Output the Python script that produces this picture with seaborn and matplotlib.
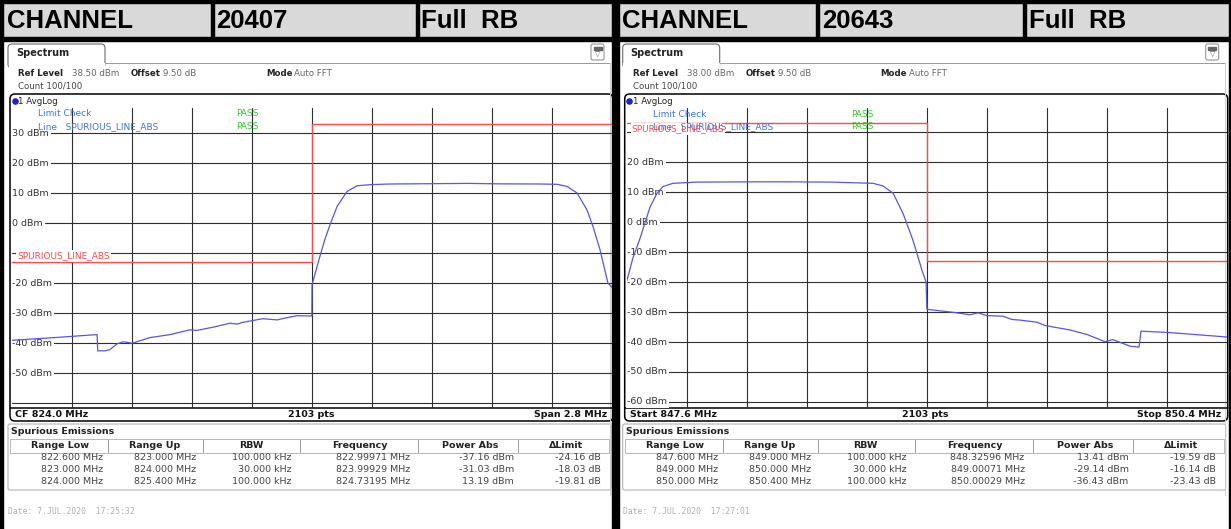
import numpy as np
import pandas as pd
import matplotlib
matplotlib.use("Agg")
import matplotlib.pyplot as plt
import matplotlib.transforms as mtrans
from matplotlib.patches import Rectangle, FancyBboxPatch
import seaborn as sns

# ---- header / settings ----
channels = ["20407", "20643"]
rb_label = "Full  RB"
ref_level = [38.5, 38.0]
offset_db = [9.5, 9.5]
freq_start = [822.6, 847.6]
freq_stop = [825.4, 850.4]
footer_left = ["CF 824.0 MHz", "Start 847.6 MHz"]
footer_right = ["Span 2.8 MHz", "Stop 850.4 MHz"]
sweep_points = 2103
dates = ["Date: 7.JUL.2020  17:25:32", "Date: 7.JUL.2020  17:27:01"]
ylabels_shown = [[30, 20, 10, 0, -20, -30, -40, -50],
                 [20, 10, 0, -10, -20, -30, -40, -50, -60]]

# ---- traces (MHz, dBm) ----
left_freq = [822.600, 822.777, 822.997, 823.000, 823.034, 823.057, 823.090, 823.118,
             823.141, 823.160, 823.244, 823.337, 823.431, 823.463, 823.547, 823.617,
             823.650, 823.678, 823.771, 823.837, 823.874, 823.930, 823.999, 824.000,
             824.037, 824.060, 824.084, 824.117, 824.163, 824.210, 824.275, 824.364,
             824.551, 824.728, 824.877, 825.064, 825.143, 825.190, 825.237, 825.283,
             825.311, 825.344, 825.381, 825.400]
left_level = [-39.1, -38.3, -37.2, -42.6, -42.6, -42.2, -40.3, -39.6,
              -39.8, -40.1, -38.2, -37.2, -35.6, -35.8, -34.6, -33.4,
              -33.7, -33.1, -31.9, -32.3, -31.7, -30.9, -31.0, -20.6,
              -11.1, -5.5, -0.6, 5.5, 10.5, 12.4, 12.8, 13.0,
              13.1, 13.2, 13.05, 13.0, 12.9, 12.2, 10.0, 4.4,
              -1.1, -8.9, -20.0, -21.5]

right_freq = [847.601, 847.629, 847.662, 847.709, 847.741, 847.769, 847.816, 847.928,
              848.222, 848.334, 848.549, 848.750, 848.796, 848.843, 848.890, 848.936,
              848.978, 848.997, 849.001, 849.122, 849.202, 849.240, 849.282, 849.356,
              849.398, 849.435, 849.515, 849.552, 849.669, 849.748, 849.832, 849.869,
              849.902, 849.949, 849.991, 850.000, 850.122, 850.215, 850.393, 850.400]
right_level = [-19.5, -12.0, -5.5, 5.0, 9.5, 11.8, 12.9, 13.3,
               13.4, 13.4, 13.3, 12.9, 12.0, 9.6, 2.8, -6.1,
               -16.1, -20.0, -29.1, -30.1, -30.9, -30.3, -31.2, -31.4,
               -32.5, -32.7, -33.4, -34.5, -36.0, -37.5, -39.9, -39.2,
               -40.1, -41.4, -41.7, -36.4, -36.8, -37.3, -38.3, -38.3]

# limit line SPURIOUS_LINE_ABS
left_limit_freq = [822.6, 824.0, 824.0, 825.4]
left_limit_level = [-13, -13, 33, 33]
right_limit_freq = [847.6, 849.0, 849.0, 850.4]
right_limit_level = [33, 33, -13, -13]

# ---- spurious emissions table ----
table_cols = ["Range Low", "Range Up", "RBW", "Frequency", "Power Abs", "ΔLimit"]
rbw_khz = [100.0, 30.0, 100.0]
left_range_low = [822.6, 823.0, 824.0]
left_range_up = [823.0, 824.0, 825.4]
left_peak_freq = [822.99971, 823.99929, 824.73195]
left_power = [-37.16, -31.03, 13.19]
left_delta = [-24.16, -18.03, -19.81]
right_range_low = [847.6, 849.0, 850.0]
right_range_up = [849.0, 850.0, 850.4]
right_peak_freq = [848.32596, 849.00071, 850.00029]
right_power = [13.41, -29.14, -36.43]
right_delta = [-19.59, -16.14, -23.43]

traces = [(left_freq, left_level), (right_freq, right_level)]
limits = [(left_limit_freq, left_limit_level), (right_limit_freq, right_limit_level)]
tables = [(left_range_low, left_range_up, left_peak_freq, left_power, left_delta),
          (right_range_low, right_range_up, right_peak_freq, right_power, right_delta)]

W, H = 1231, 529
sns.set_style("white")
plt.rcParams['font.family'] = ['DejaVu Sans']

TRACE = '#5656e8'
LIMIT = '#ff4a4a'
LBLUE = '#3a74f2'
PASSG = '#2ccf2c'

fig = plt.figure(figsize=(W / 100, H / 100), dpi=100)
bg = fig.add_axes([0, 0, 1, 1])
bg.set_xlim(0, W)
bg.set_ylim(H, 0)
bg.axis('off')

# header band
bg.add_patch(Rectangle((0, 0), W, 38, color='#d9d9d9', zorder=0))
for x, y, w, h in [(0, 0, W, 3), (0, 0, 3, H), (612, 0, 7, H), (W - 2, 0, 2, H),
                   (0, 37, W, 4), (211, 3, 3, 35), (416, 3, 3, 35),
                   (816, 3, 3, 35), (1023, 3, 3, 35)]:
    bg.add_patch(Rectangle((x, y), w, h, color='black', zorder=5))

header_x = [[7, 216, 421], [622, 822, 1029]]
offsets = [0, 614.7]
for i, ox in enumerate(offsets):
    hfont = dict(family='Liberation Sans', weight='bold', fontsize=18.5, va='center', color='black')
    hx = header_x[i]
    bg.text(hx[0], 21, "CHANNEL", **hfont)
    bg.text(hx[1], 21, channels[i], **hfont)
    bg.text(hx[2], 21, rb_label, **hfont)

    # spectrum tab + info lines
    bg.add_patch(FancyBboxPatch((ox + 8, 44), 97, 24, boxstyle="round,pad=0,rounding_size=4",
                                fc='white', ec='#6a6a6a', lw=0.8))
    bg.add_patch(Rectangle((ox + 8.6, 62.6), 95.8, 6, color='white', zorder=2))
    bg.plot([ox + 105, ox + 610], [63, 63], color='#9a9a9a', lw=0.7)
    bg.plot([ox + 610, ox + 610], [63, 495], color='#d0d0d0', lw=0.7)
    bg.text(ox + 16, 53, "Spectrum", fontsize=7, weight='bold', va='center', color='#222222')
    bg.add_patch(FancyBboxPatch((ox + 591, 44), 13, 16, boxstyle="round,pad=0,rounding_size=2",
                                fc='white', ec='#888888', lw=0.7))
    bg.text(ox + 597.5, 54, "▽", fontsize=5, ha='center', va='center', color='#555555')
    bg.add_patch(Rectangle((ox + 593.5, 46.5), 8, 3, color='#666666'))

    small = dict(fontsize=6.2, va='center')
    bg.text(ox + 18, 74, "Ref Level", weight='bold', color='#222222', **small)
    bg.text(ox + 72, 74, f"{ref_level[i]:.2f} dBm", color='#666666', **small)
    bg.text(ox + 131, 74, "Offset", weight='bold', color='#222222', **small)
    bg.text(ox + 163, 74, f"{offset_db[i]:.2f} dB", color='#666666', **small)
    bg.text(ox + 266, 74, "Mode", weight='bold', color='#222222', **small)
    bg.text(ox + 294, 74, "Auto FFT", color='#666666', **small)
    bg.text(ox + 18, 86, "Count 100/100", color='#444444', **small)

    # plot frame with title bar and footer
    bg.add_patch(FancyBboxPatch((ox + 10, 94), 603, 327, boxstyle="round,pad=0,rounding_size=5",
                                fc='white', ec='black', lw=1.1, zorder=1))
    bg.plot([ox + 10, ox + 613], [407.5, 407.5], color='black', lw=1.1, zorder=2)
    bg.scatter([ox + 14.5], [101], s=14, color='#1f1fd6', zorder=3)
    bg.text(ox + 18, 101, "1 AvgLog", color='#222222', **small)
    foot = dict(fontsize=6.8, weight='bold', va='center', color='#111111')
    bg.text(ox + 15, 414.5, footer_left[i], **foot)
    bg.text(ox + 311, 414.5, f"{sweep_points} pts", ha='center', **foot)
    bg.text(ox + 607, 414.5, footer_right[i], ha='right', **foot)

    # spectrum trace axes
    gx, gy = ox + 12, (107.5 if i == 0 else 108)
    ax = fig.add_axes([gx / W, 1 - (gy + 300) / H, 600 / W, 300 / H])
    ax.patch.set_alpha(0)
    ax.set_zorder(3)
    f, lv = traces[i]
    df = pd.DataFrame({'freq': f, 'level': lv})
    lf, ll = limits[i]
    lim = pd.DataFrame({'freq': lf, 'level': ll})
    sns.lineplot(data=lim, x='freq', y='level', sort=False, estimator=None,
                 color=LIMIT, lw=1.0, ax=ax, zorder=3)
    sns.lineplot(data=df, x='freq', y='level', sort=False, estimator=None,
                 color=TRACE, lw=0.9, ax=ax, zorder=4)
    ax.set_xlim(freq_start[i], freq_stop[i])
    ax.set_ylim(ref_level[i] - 100, ref_level[i])
    ax.set_xticks(np.linspace(freq_start[i], freq_stop[i], 11)[1:-1])
    ax.set_yticks(np.arange(-60, 40, 10))
    ax.set_axisbelow(True)
    ax.grid(True, color='#2e2e2e', lw=0.8)
    ax.tick_params(length=0, labelbottom=False, labelleft=False)
    for s in ax.spines.values():
        s.set_visible(False)
    ax.set_xlabel('')
    ax.set_ylabel('')

    tr = mtrans.blended_transform_factory(ax.transAxes, ax.transData)
    for v in ylabels_shown[i]:
        ax.text(0.5 / 600, v, f"{v} dBm", transform=tr, fontsize=6.8, va='center', color='#333333',
                zorder=2, bbox=dict(fc='white', ec='none', pad=1.2))

    # limit line label and limit check
    def axpt(px, py):
        return (px - gx) / 600, 1 - (py - gy) / 300
    lab_y = 256 if i == 0 else 129
    x0, y0 = axpt(ox + 17, lab_y)
    ax.text(x0, y0, "SPURIOUS_LINE_ABS", transform=ax.transAxes, fontsize=6.5, color=LIMIT,
            va='center', zorder=5, bbox=dict(fc='white', ec='none', pad=0.8))
    x0, y0 = axpt(ox + 38, 114)
    ax.text(x0, y0, "Limit Check", transform=ax.transAxes, fontsize=6.5, color=LBLUE, va='center', zorder=6)
    x0, y0 = axpt(ox + 38, 126.5)
    ax.text(x0, y0, "Line   SPURIOUS_LINE_ABS", transform=ax.transAxes, fontsize=6.5, color=LBLUE,
            va='center', zorder=6)
    for py in (114, 126.5):
        x0, y0 = axpt(ox + 236, py)
        ax.text(x0, y0, "PASS", transform=ax.transAxes, fontsize=6.5, color=PASSG, va='center', zorder=6)

    # spurious emissions table
    bg.add_patch(FancyBboxPatch((ox + 8, 424), 603, 66, boxstyle="round,pad=0,rounding_size=2",
                                fc='white', ec='#b4b4b4', lw=0.8))
    bg.text(ox + 11, 431, "Spurious Emissions", fontsize=6.8, weight='bold', va='center', color='#222222')
    bg.add_patch(Rectangle((ox + 10, 439), 599, 13.5, fc='white', ec='#b8b8b8', lw=0.7))
    for sx in [108, 203, 300, 418, 518]:
        bg.plot([ox + sx, ox + sx], [440, 452], color='#9a9a9a', lw=0.7)
    for cx, name in zip([60, 155, 251, 360, 470, 566], table_cols):
        bg.text(ox + cx, 446, name, fontsize=6.8, weight='bold', ha='center', va='center', color='#222222')
    rl, ru, pf, pw, dl = tables[i]
    col_right = [103, 196, 292, 410, 514, 601]
    for r, ry in enumerate([458, 469.5, 481]):
        vals = [f"{rl[r]:.3f} MHz", f"{ru[r]:.3f} MHz", f"{rbw_khz[r]:.3f} kHz",
                f"{pf[r]:.5f} MHz", f"{pw[r]:.2f} dBm", f"{dl[r]:.2f} dB"]
        for cx, s in zip(col_right, vals):
            bg.text(ox + cx, ry, s, fontsize=6.8, ha='right', va='center', color='#444444')

    bg.text(ox + 8, 511, dates[i], fontsize=5.8, family='DejaVu Sans Mono', va='center', color='#b0b0b0')

fig.savefig("out.png", dpi=100)
